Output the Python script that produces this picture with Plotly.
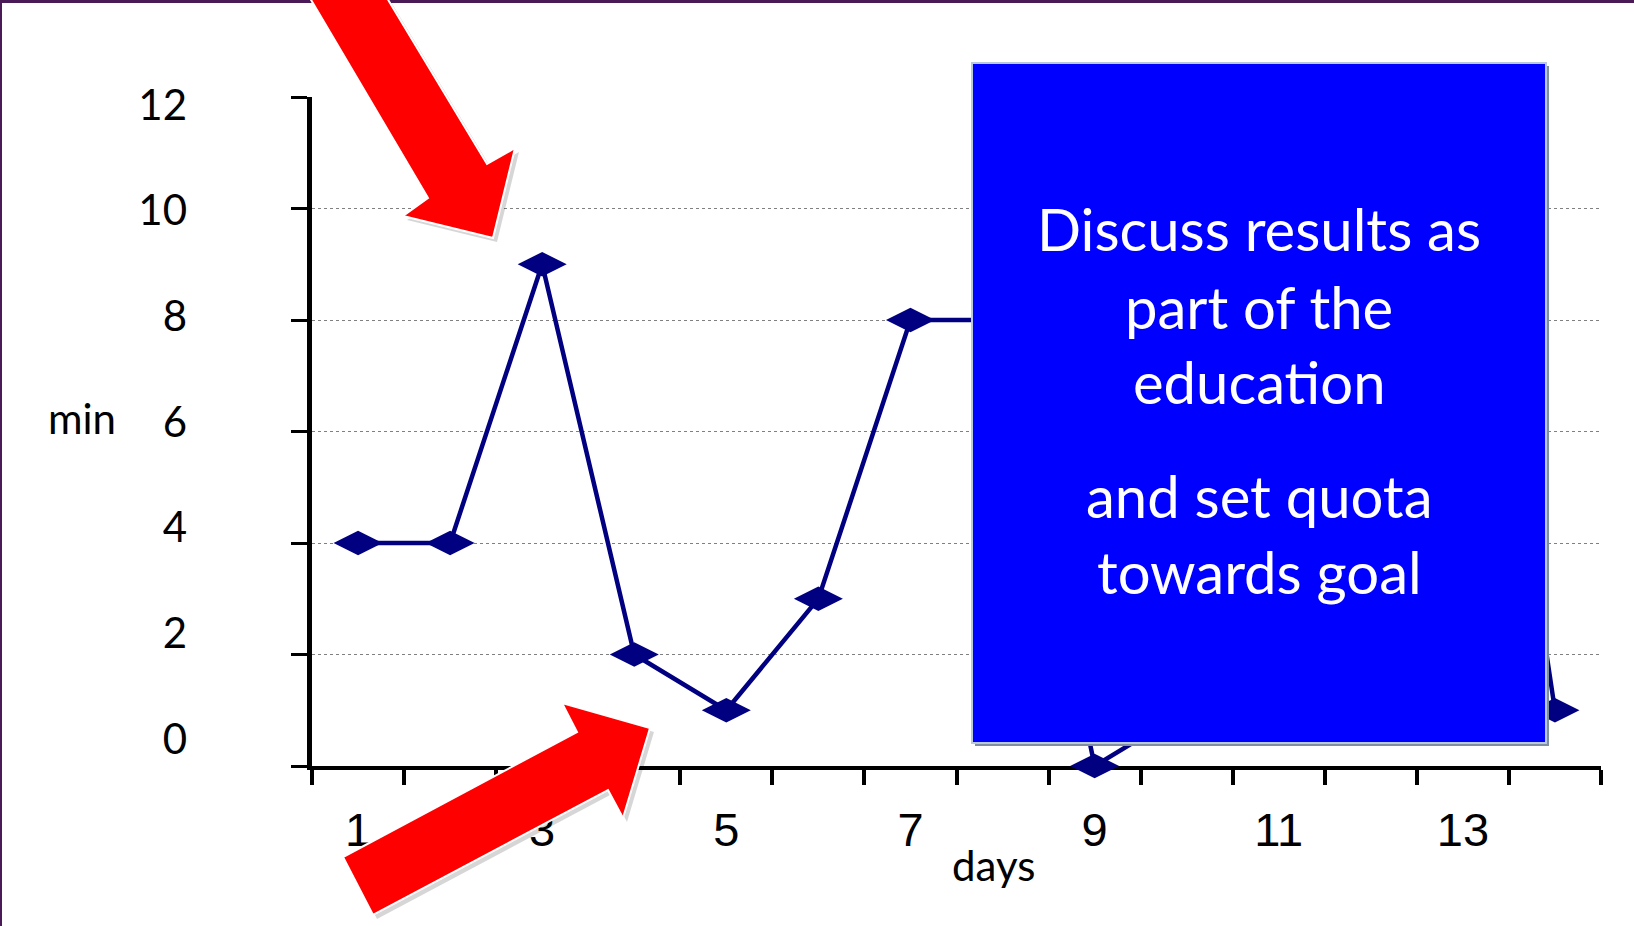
import plotly.graph_objects as go

# Minutes per day over a two-week period
days = list(range(1, 15))
minutes = [4, 4, 9, 2, 1, 3, 8, 8, 0, 1, 5, 6, 12, 1]

x_label_days = [1, 3, 5, 7, 9, 11, 13]
x_label_text = [str(d) for d in x_label_days]
y_tick_vals = [0, 2, 4, 6, 8, 10, 12]
y_tick_text = [str(v) for v in y_tick_vals]

note_lines = ["Discuss results as", "part of the", "education",
              "and set quota", "towards goal"]

W, H = 1634, 926
ML, MR, MT, MB = 312, 33, 97, 160
PW, PH = W - ML - MR, H - MT - MB


def px(x):
    return (x - ML) / PW


def py(y):
    return (H - MB - y) / PH


def poly(points):
    return "M " + " L ".join(f"{px(x):.5f},{py(y):.5f}" for x, y in points) + " Z"


def rect(x0, y0, x1, y1, **kw):
    return dict(type="rect", xref="paper", yref="paper",
                x0=px(x0), x1=px(x1), y0=py(y1), y1=py(y0), **kw)


fig = go.Figure()

fig.add_trace(go.Scatter(
    x=days, y=minutes, mode="lines+markers",
    line=dict(color="#000080", width=4.5),
    marker=dict(symbol="diamond-wide", size=35, color="#000080"),
    cliponaxis=False, showlegend=False, hoverinfo="skip",
))
# carrier for the offset tick-label axis
fig.add_trace(go.Scatter(x=[None], y=[None], yaxis="y2",
                         showlegend=False, hoverinfo="skip"))

label_font = dict(family="Lato, Open Sans, sans-serif", size=42, color="black")

fig.update_layout(
    width=W, height=H,
    margin=dict(l=ML, r=MR, t=MT, b=MB, pad=0),
    paper_bgcolor="white", plot_bgcolor="white",
    hovermode=False,
    xaxis=dict(
        range=[0.5, 14.5], tickvals=x_label_days, ticktext=x_label_text,
        ticks="", showgrid=False, zeroline=False,
        showline=True, linecolor="black", linewidth=4,
        layer="below traces",
        tickfont=dict(family="Liberation Sans, Arial, sans-serif", size=47, color="black"),
        ticklabelstandoff=20,
        minor=dict(tickvals=[d - 0.5 for d in days] + [14.5], ticks="outside",
                   ticklen=15, tickwidth=4, tickcolor="black", showgrid=False),
    ),
    yaxis=dict(
        range=[0, 12], tickvals=y_tick_vals, showticklabels=False,
        ticks="outside", ticklen=16, tickwidth=3, tickcolor="black",
        showline=True, linecolor="black", linewidth=5,
        showgrid=True, gridcolor="#808080", gridwidth=1, griddash="dot",
        zeroline=False, layer="below traces",
    ),
    yaxis2=dict(
        overlaying="y", side="left", anchor="x",
        range=[-0.51, 12.15], tickvals=y_tick_vals, ticktext=y_tick_text,
        ticks="", showline=False, showgrid=False, zeroline=False,
        tickfont=label_font, ticklabelstandoff=124,
    ),
)

shapes = []
# slide frame
shapes.append(rect(0, 0, W, 3, fillcolor="#4a1a57", line_width=0, layer="above"))
shapes.append(rect(0, 0, 2, H, fillcolor="#4a1a57", line_width=0, layer="above"))

# callout box with drop shadow
shapes.append(rect(975, 66, 1549, 746, fillcolor="#7f8ea3", line_width=0, layer="above"))
shapes.append(rect(972, 63, 1546, 743, fillcolor="#0000ff",
                   line=dict(color="#b9c9dd", width=2), layer="above"))

# red pointer arrows
arrow_top = [(304, -12), (381, -12), (487, 164), (515, 148), (493, 238),
             (403, 216), (428, 198)]
arrow_bottom = [(373, 915), (343, 857), (577, 732), (562, 703), (650, 728),
                (623, 818), (608, 790)]
for pts in (arrow_top, arrow_bottom):
    shifted = [(x + 4, y + 4) for x, y in pts]
    shapes.append(dict(type="path", xref="paper", yref="paper", path=poly(shifted),
                       fillcolor="rgba(0,0,0,0.16)", line_width=0, layer="above"))
    shapes.append(dict(type="path", xref="paper", yref="paper", path=poly(pts),
                       fillcolor="#ff0000", line=dict(color="white", width=2),
                       layer="above"))
fig.update_layout(shapes=shapes)

annotations = [
    dict(text="min", x=px(82), y=py(418), font=label_font),
    dict(text="days", x=px(993), y=py(865), font=label_font),
]
note_y = [228, 306, 381, 496, 571]
for line, yy in zip(note_lines, note_y):
    annotations.append(dict(text=line, x=px(1259), y=py(yy),
                            font=dict(family="Lato, sans-serif", size=58, color="white")))
for a in annotations:
    a.update(xref="paper", yref="paper", showarrow=False,
             xanchor="center", yanchor="middle")
fig.update_layout(annotations=annotations)

fig.write_html("out.html")
